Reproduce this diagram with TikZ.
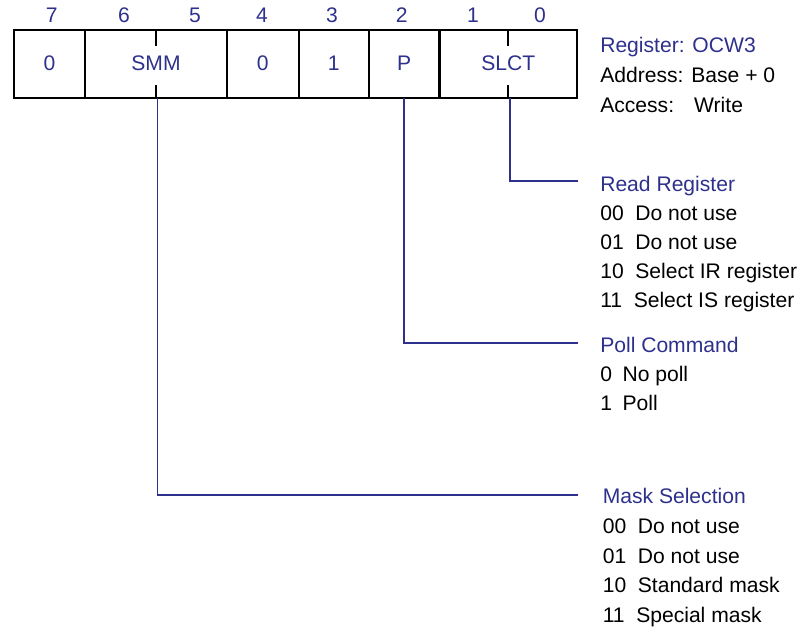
\documentclass[tikz,border=0pt]{standalone}
\usepackage{fontspec}
\setmainfont{Liberation Sans}
\usetikzlibrary{positioning}
\definecolor{regblue}{RGB}{46,49,140}

\begin{document}
\begin{tikzpicture}[x=0.025cm, y=-0.025cm, font=\fontsize{15}{18}\selectfont, node distance=0cm,
	field/.style={draw, line width=1.6pt, minimum height=1.69cm, inner sep=0pt, outer sep=0pt, text=regblue, text height=1em, text depth=0pt},
	bitnum/.style={anchor=base, text=regblue, inner sep=0pt},
	heading/.style={anchor=base west, text=regblue, inner sep=0pt},
	item/.style={anchor=base west, inner sep=0pt},
	conn/.style={draw=regblue, line width=1.2pt},
	tick/.style={line width=1.6pt}]
	\useasboundingbox (0,0) rectangle (804,629);

	% Register fields
	\node[field, minimum width=1.775cm] (f7) at (49.5,63.85) {0};
	\node[field, minimum width=3.55cm, right=of f7] (smm) {SMM};
	\node[field, minimum width=1.79cm, right=of smm] (f4) {0};
	\node[field, minimum width=1.75cm, right=of f4] (f3) {1};
	\node[field, minimum width=1.77cm, right=of f3] (p) {P};
	\node[field, minimum width=3.44cm, right=of p] (slct) {SLCT};

	% Bit boundary ticks inside the two-bit fields
	\draw[tick] (smm.north) -- ++(0,16);
	\draw[tick] (smm.south) -- ++(0,-13);
	\draw[tick] (slct.north) -- ++(0,16);
	\draw[tick] (slct.south) -- ++(0,-13);

	% Bit numbers
	\foreach \b/\x in {7/51.7, 6/124, 5/195, 4/262, 3/332, 2/401.7, 1/473, 0/540}
		\node[bitnum] (b\b) at (\x,23) {\b};

	% Register info
	\node[heading] (regname) at (600,52.5) {Register: OCW3};
	\node[item] (regaddr) at (600,83) {Address: Base + 0};
	\node[item] (regacc) at (600,112.5) {Access:\hspace{0.95em}Write};

	% Read register
	\node[heading] (rdhd) at (600,191.5) {Read Register};
	\foreach \t [count=\i] in {00\hspace{0.55em}Do not use, 01\hspace{0.55em}Do not use, 10\hspace{0.55em}Select IR register, 11\hspace{0.55em}Select IS register}
		\node[item] (rd\i) at (600,191.5+29*\i) {\t};

	% Poll command
	\node[heading] (pollhd) at (600,353) {Poll Command};
	\node[item] (poll1) at (600,382) {0\hspace{0.5em}No poll};
	\node[item] (poll2) at (600,410.5) {1\hspace{0.5em}Poll};

	% Mask selection
	\node[heading] (maskhd) at (602.5,504) {Mask Selection};
	\foreach \t [count=\i] in {00\hspace{0.55em}Do not use, 01\hspace{0.55em}Do not use, 10\hspace{0.55em}Standard mask, 11\hspace{0.55em}Special mask}
		\node[item] (mask\i) at (602.5,504+29.5*\i) {\t};

	% Connectors
	\coordinate (rdend) at (578,181);
	\coordinate (pollend) at (578,343);
	\coordinate (maskend) at (578,495);
	\draw[conn] ([xshift=1pt]slct.south) |- (rdend);
	\draw[conn] (p.south) |- (pollend);
	\draw[conn] ([xshift=1pt]smm.south) |- (maskend);
\end{tikzpicture}
\end{document}
